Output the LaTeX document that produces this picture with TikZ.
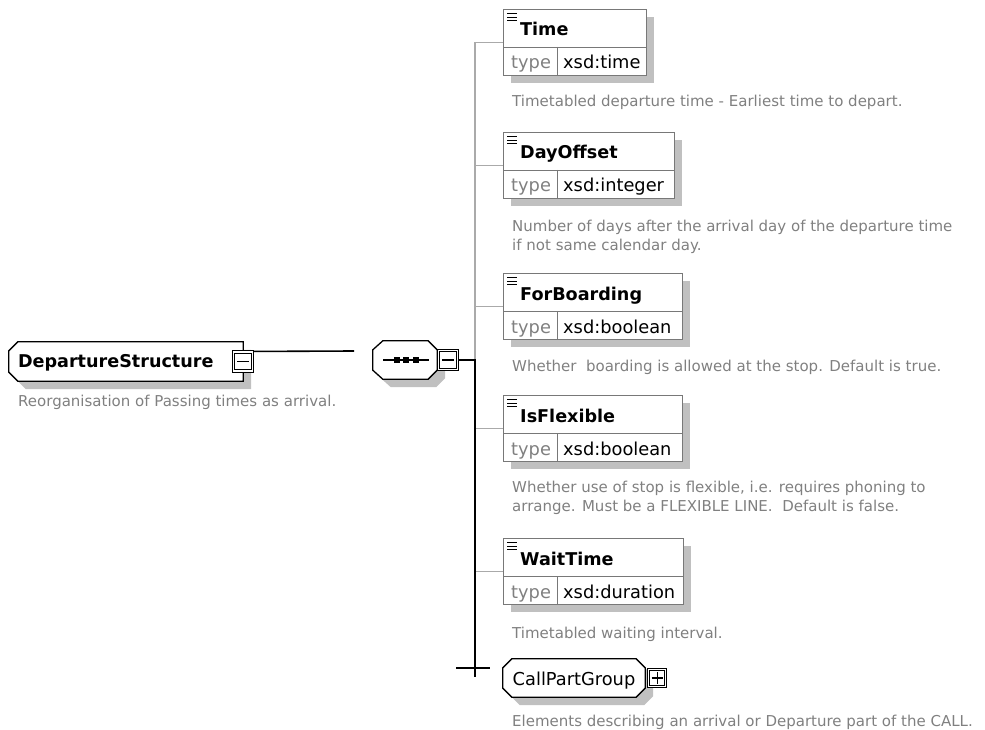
\documentclass[tikz,border=0pt]{standalone}
\usepackage{fontspec}
\setmainfont{DejaVu Sans}
\usetikzlibrary{shadows,calc,positioning}

\definecolor{descgray}{RGB}{128,128,128}
\definecolor{shadowgray}{RGB}{192,192,192}
\definecolor{spinegray}{RGB}{170,170,170}
\definecolor{framegray}{RGB}{120,120,120}

\tikzset{
  elshadow/.style={drop shadow={shadow xshift=8pt,shadow yshift=-8pt,fill=shadowgray,opacity=1}},
  elframe/.style={rectangle,draw=framegray,line width=.9pt,fill=white,minimum height=66pt,
    inner sep=0pt,anchor=north west,elshadow},
  eltitle/.style={font=\fontsize{17.6}{20}\selectfont\bfseries,inner sep=0pt,anchor=base west},
  eltype/.style={font=\fontsize{17.8}{20}\selectfont,inner sep=0pt,anchor=base west},
  desc/.style={font=\fontsize{15}{19.5}\selectfont,text=descgray,inner sep=0pt,align=left},
  holder/.style={rectangle,inner sep=0pt},
  outline/.style={draw,line width=1.3pt,fill=white,elshadow},
  btn/.style={rectangle,draw,fill=white,line width=1.1pt,double,double distance=1.2pt,
    minimum size=19pt,inner sep=0pt},
  btnsign/.style={line width=1.3pt},
  branch/.style={draw=spinegray,line width=1.3pt},
  wire/.style={draw=black,line width=2pt},
}

\begin{document}
\begin{tikzpicture}[x=1pt,y=-1pt]
  \useasboundingbox (0,0) rectangle (985,730);

  \coordinate (spine) at (475,0);
  \coordinate (dsend) at (354,351);
  \coordinate (tick) at (475,668);
  \coordinate (spineend) at (475,677);

  % child elements with their types
  \foreach \id/\lbl/\typ/\ty/\elw in {time/Time/xsd:time/9/143,
      dayoff/DayOffset/xsd:integer/132/171, board/ForBoarding/xsd:boolean/273/179,
      flex/IsFlexible/xsd:boolean/395/179, wait/WaitTime/xsd:duration/538/180}{
    \node[elframe,minimum width={\elw*1pt}] (\id) at (503,\ty) {};
    \draw[framegray,line width=.9pt] ($(\id.north west)+(0,38)$) -- ($(\id.north east)+(0,38)$);
    \draw[framegray,line width=.9pt] ($(\id.north west)+(54,38)$) -- ($(\id.south west)+(54,0)$);
    \foreach \k in {0,1,2}
      \draw[line width=.8pt] ($(\id.north west)+(4,4.5+3.5*\k)$) -- ++(10,0);
    \node[eltitle] at ($(\id.north west)+(17,27)$) {\lbl};
    \node[eltype,text=descgray] at ($(\id.north west)+(8,60)$) {type};
    \node[eltype] at ($(\id.north west)+(60,60)$) {\typ};
  }

  \node[desc,below right=19pt and 9pt of time.south west] (timedesc)
    {Timetabled departure time - Earliest time to depart.};
  \node[desc,below right=21pt and 9pt of dayoff.south west] (dayoffdesc)
    {Number of days after the arrival day of the departure time\\if not same calendar day.};
  \node[desc,below right=20pt and 9pt of board.south west] (boarddesc)
    {Whether~ boarding is allowed at the stop. Default is true.};
  \node[desc,below right=19pt and 9pt of flex.south west] (flexdesc)
    {Whether use of stop is flexible, i.e. requires phoning to\\arrange. Must be a FLEXIBLE LINE.~ Default is false.};
  \node[desc,below right=22pt and 9pt of wait.south west] (waitdesc)
    {Timetabled waiting interval.};

  % the parent type
  \node[holder,minimum width=234pt,minimum height=39pt] (ds) at (126,361.5) {};
  \draw[outline] ($(ds.north west)+(9,0)$) -- (ds.north east) -- (ds.south east)
    -- ($(ds.south west)+(9,0)$) -- ($(ds.south west)+(0,-9)$) -- ($(ds.north west)+(0,9)$) -- cycle;
  \node[eltitle] (dstext) at ($(ds.west)+(9,5.5)$) {DepartureStructure};
  \node[btn] (dsbtn) at (ds.east) {};
  \draw[btnsign] ($(dsbtn.west)+(4,0)$) -- ($(dsbtn.east)+(-4,0)$);
  \node[desc,anchor=north west] (dsdesc) at (18,395) {Reorganisation of Passing times as arrival.};

  % sequence
  \node[holder,minimum width=64pt,minimum height=38pt] (seq) at (405,360) {};
  \draw[outline] ($(seq.north west)+(10,0)$) -- ($(seq.north east)+(-9,0)$) -- ($(seq.north east)+(0,9)$)
    -- ($(seq.south east)+(0,-9)$) -- ($(seq.south east)+(-9,0)$) -- ($(seq.south west)+(10,0)$)
    -- ($(seq.south west)+(0,-9)$) -- ($(seq.north west)+(0,9)$) -- cycle;
  \draw[line width=1.2pt] ($(seq.center)+(-22,0)$) -- ($(seq.center)+(24,0)$);
  \foreach \dx in {-8,1,11}
    \fill ($(seq.center)+(\dx,0)$) +(-2.6,-2.6) rectangle +(2.6,2.6);
  \node[btn,right=1pt of seq] (seqbtn) {};
  \draw[btnsign] ($(seqbtn.west)+(4,0)$) -- ($(seqbtn.east)+(-4,0)$);

  % group reference
  \node[holder,minimum width=142pt,minimum height=38pt] (cpg) at (574,678) {};
  \draw[outline] ($(cpg.north west)+(9,0)$) -- ($(cpg.north east)+(-9,0)$) -- ($(cpg.north east)+(0,9)$)
    -- ($(cpg.south east)+(0,-9)$) -- ($(cpg.south east)+(-9,0)$) -- ($(cpg.south west)+(9,0)$)
    -- ($(cpg.south west)+(0,-9)$) -- ($(cpg.north west)+(0,9)$) -- cycle;
  \node[eltype,anchor=base] (cpgtext) at ($(cpg.center)+(0,7)$) {CallPartGroup};
  \node[btn,minimum size=17pt,right=3pt of cpg] (cpgbtn) {};
  \draw[btnsign] ($(cpgbtn.west)+(3.5,0)$) -- ($(cpgbtn.east)+(-3.5,0)$);
  \draw[btnsign] ($(cpgbtn.north)+(0,3.5)$) -- ($(cpgbtn.south)+(0,-3.5)$);
  \node[desc,anchor=north west] (cpgdesc) at (512,715)
    {Elements describing an arrival or Departure part of the CALL.};

  % connectors
  \draw[branch] (time.west -| spine) -- (wait.west -| spine);
  \foreach \id in {time,dayoff,board,flex,wait}
    \draw[branch] (\id.west -| spine) -- (\id.west);
  \draw[line width=1.6pt] (dsbtn.north east) -- (dsend);
  \draw[wire] (seqbtn.east) -- (seqbtn.east -| spine) -- (spineend);
  \draw[wire] ($(tick)+(-19,0)$) -- ($(tick)+(15,0)$);
\end{tikzpicture}
\end{document}
